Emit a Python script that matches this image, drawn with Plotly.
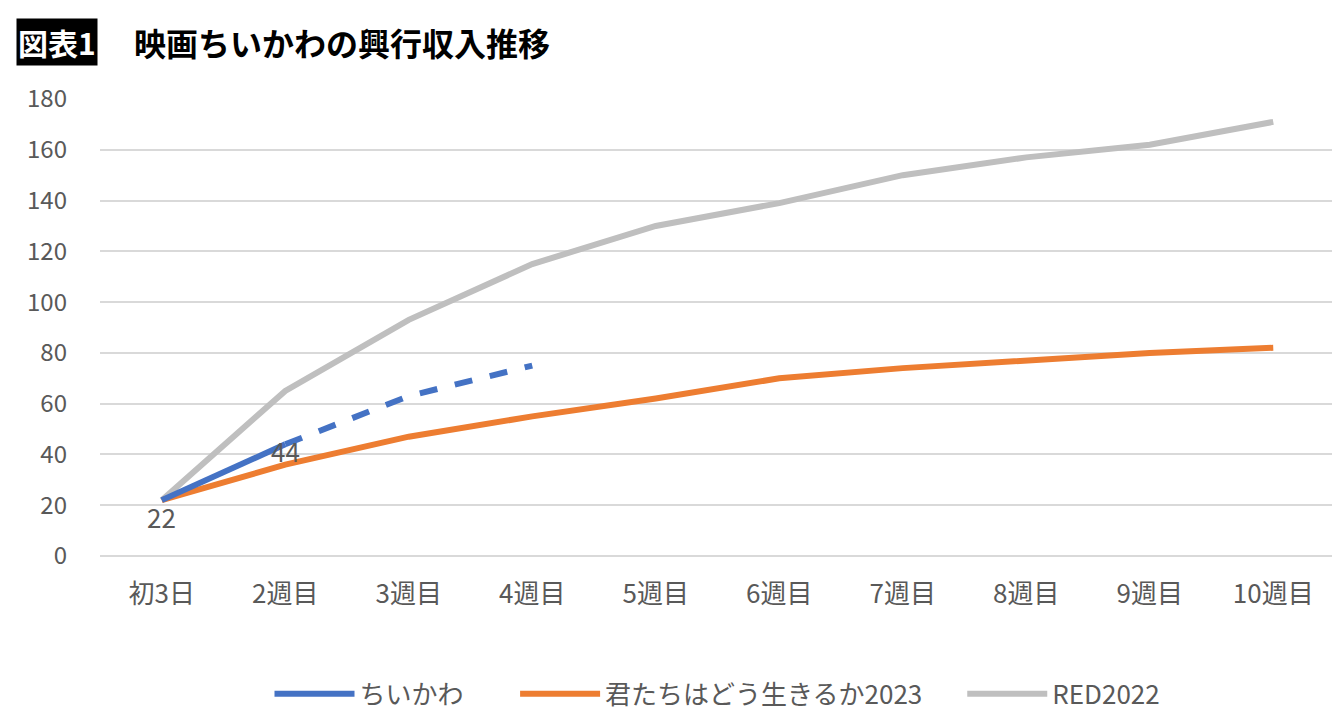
import plotly.graph_objects as go

categories = ["初3日", "2週目", "3週目", "4週目", "5週目", "6週目", "7週目", "8週目", "9週目", "10週目"]
chiikawa = [22, 44, 63, 75]
kimitachi = [22, 36, 47, 55, 62, 70, 74, 77, 80, 82]
red2022 = [22, 65, 93, 115, 130, 139, 150, 157, 162, 171]

font = "Noto Sans CJK JP"
gray = "#595959"

fig = go.Figure()
fig.add_trace(go.Scatter(x=categories, y=red2022, mode="lines", name="RED2022",
                         line=dict(color="#BFBFBF", width=6)))
fig.add_trace(go.Scatter(x=categories, y=kimitachi, mode="lines", name="君たちはどう生きるか2023" + "\u00a0" * 6,
                         line=dict(color="#ED7D31", width=6)))
fig.add_trace(go.Scatter(x=categories[1:4], y=chiikawa[1:4], mode="lines", showlegend=False,
                         line=dict(color="#4472C4", width=6, dash="dash")))
fig.add_trace(go.Scatter(x=categories[:2], y=chiikawa[:2], mode="lines", name="ちいかわ" + "\u00a0" * 8,
                         line=dict(color="#4472C4", width=6)))

fig.data[3].legendrank = 1
fig.data[1].legendrank = 2
fig.data[0].legendrank = 3

for i, yshift in [(0, -16), (1, -6)]:
    fig.add_annotation(x=categories[i], y=chiikawa[i], text=str(chiikawa[i]), showarrow=False,
                       yshift=yshift, font=dict(size=26, color=gray, family=font))

fig.add_annotation(xref="paper", yref="paper", x=-0.068, y=1.125, xanchor="left", yanchor="middle",
                   text="<b>図表1</b>", showarrow=False, bgcolor="black",
                   font=dict(size=30, color="white", family=font))
fig.add_annotation(xref="paper", yref="paper", x=0.026, y=1.125, xanchor="left", yanchor="middle",
                   text="<b>映画ちいかわの興行収入推移</b>", showarrow=False,
                   font=dict(size=32, color="black", family=font))

fig.update_layout(
    width=1340, height=721,
    margin=dict(l=92, r=13, t=91, b=167),
    plot_bgcolor="white", paper_bgcolor="white",
    font=dict(family=font, color=gray),
    xaxis=dict(range=[-0.5, 9.5], showgrid=False, showline=False, ticks="",
               tickfont=dict(size=26, color=gray), ticklabelstandoff=20),
    yaxis=dict(range=[0, 180], dtick=20, gridcolor="#D9D9D9", gridwidth=2, zeroline=True,
               zerolinecolor="#D9D9D9", zerolinewidth=2,
               tickfont=dict(size=24, color=gray), ticklabelstandoff=32),
    legend=dict(orientation="h", x=0.5, xanchor="center", y=-0.25, yanchor="top",
                font=dict(size=26, color=gray), itemwidth=80),
)

fig.write_html("out.html")
